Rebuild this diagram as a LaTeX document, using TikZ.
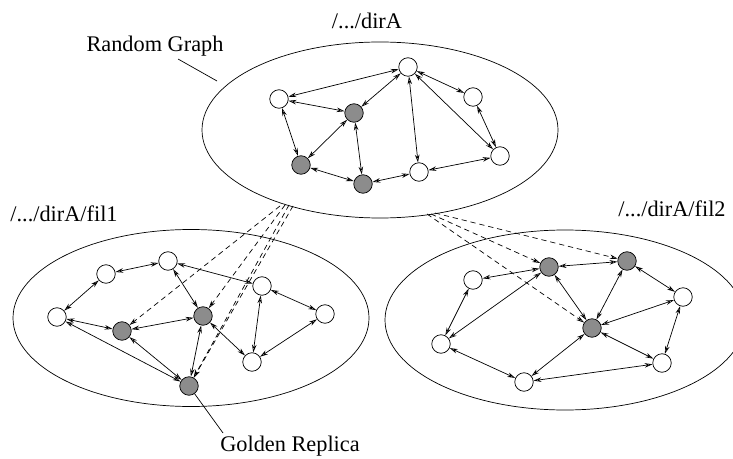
\documentclass[tikz,border=0pt]{standalone}
\usepackage{fontspec}
\setmainfont{Liberation Serif}
\usetikzlibrary{arrows.meta}

\begin{document}
\begin{tikzpicture}[x=0.02cm,y=-0.02cm,
  >={Stealth[open,length=4.5pt,width=2.6pt]},
  vtx/.style={circle,draw,fill=white,minimum size=0.37cm,inner sep=0pt},
  gold/.style={vtx,fill=black!45},
  link/.style={<->},
  copyline/.style={->,dash pattern=on 3pt off 2.2pt},
  lbl/.style={font=\fontsize{12.7}{15}\selectfont,inner sep=0pt}]
\useasboundingbox (0,0) rectangle (733,459);

% the three graphs
\draw (380,130) ellipse [x radius=178, y radius=88];
\draw (191,318) ellipse [x radius=178, y radius=88.5];
\draw (565,320) ellipse [x radius=180, y radius=90];

\node[lbl] (dir)  at (367,21)  {/.../dirA};
\node[lbl] (rg)   at (155,46)  {Random Graph};
\node[lbl] (fil1) at (64,214)  {/.../dirA/fil1};
\node[lbl] (fil2) at (672,209) {/.../dirA/fil2};
\node[lbl] (gr)   at (290,446) {Golden Replica};

% directory
\node[vtx]  (a1) at (408,67)  {};
\node[vtx]  (a2) at (279,99)  {};
\node[gold] (a3) at (354,113) {};
\node[gold] (a4) at (301,165) {};
\node[gold] (a5) at (363,184) {};
\node[vtx]  (a6) at (419,172) {};
\node[vtx]  (a7) at (473,97)  {};
\node[vtx]  (a8) at (500,156) {};
\draw[link] (a1) -- (a2); \draw[link] (a1) -- (a3); \draw[link] (a1) -- (a6);
\draw[link] (a1) -- (a7); \draw[link] (a1) -- (a8); \draw[link] (a2) -- (a3);
\draw[link] (a2) -- (a4); \draw[link] (a3) -- (a4); \draw[link] (a3) -- (a5);
\draw[link] (a4) -- (a5); \draw[link] (a5) -- (a6); \draw[link] (a6) -- (a8);
\draw[link] (a7) -- (a8);

% fil1
\node[vtx]  (b1) at (168,261) {};
\node[vtx]  (b2) at (106,274) {};
\node[vtx]  (b3) at (57,317)  {};
\node[gold] (b4) at (122,331) {};
\node[gold] (b5) at (203,316) {};
\node[vtx]  (b6) at (262,286) {};
\node[vtx]  (b7) at (325,314) {};
\node[vtx]  (b8) at (252,362) {};
\node[gold] (b9) at (189,386) {};
\draw[link] (b1) -- (b2); \draw[link] (b2) -- (b3); \draw[link] (b1) -- (b5);
\draw[link] (b1) -- (b6); \draw[link] (b3) -- (b4); \draw[link] (b3) -- (b9);
\draw[link] (b4) -- (b5); \draw[link] (b4) -- (b9); \draw[link] (b5) -- (b9);
\draw[link] (b5) -- (b8); \draw[link] (b6) -- (b7); \draw[link] (b6) -- (b8);
\draw[link] (b7) -- (b8);

% fil2
\node[gold] (c1) at (549,267) {};
\node[gold] (c2) at (627,261) {};
\node[vtx]  (c3) at (473,280) {};
\node[vtx]  (c4) at (683,297) {};
\node[gold] (c5) at (592,328) {};
\node[vtx]  (c6) at (441,344) {};
\node[vtx]  (c7) at (662,363) {};
\node[vtx]  (c8) at (524,382) {};
\draw[link] (c1) -- (c2); \draw[link] (c1) -- (c3); \draw[link] (c1) -- (c5);
\draw[link] (c1) -- (c6); \draw[link] (c2) -- (c5); \draw[link] (c2) -- (c4);
\draw[link] (c3) -- (c6); \draw[link] (c4) -- (c5); \draw[link] (c4) -- (c7);
\draw[link] (c5) -- (c7); \draw[link] (c5) -- (c8); \draw[link] (c6) -- (c8);
\draw[link] (c8) -- (c7);

% replicas
\coordinate (l1) at (280,206);
\coordinate (l2) at (285,205);
\coordinate (l3) at (289,205);
\coordinate (l4) at (293,206);
\draw[copyline] (l1) -- (b4);
\draw[copyline] (l2) -- (b5);
\draw[copyline] (l3) -- (b9);
\draw[copyline] (l4) -- (b9);
\coordinate (r1) at (427,214);
\coordinate (r2) at (431,214);
\coordinate (r3) at (435,213);
\draw[copyline] (r1) -- (c5);
\draw[copyline] (r2) -- (c1);
\draw[copyline] (r3) -- (c2);

% callouts
\coordinate (rgtip) at (217,81);
\coordinate (grtip) at (223,433);
\draw[shorten <=3pt] (rg) -- (rgtip);
\draw (b9) -- (grtip);
\end{tikzpicture}
\end{document}
